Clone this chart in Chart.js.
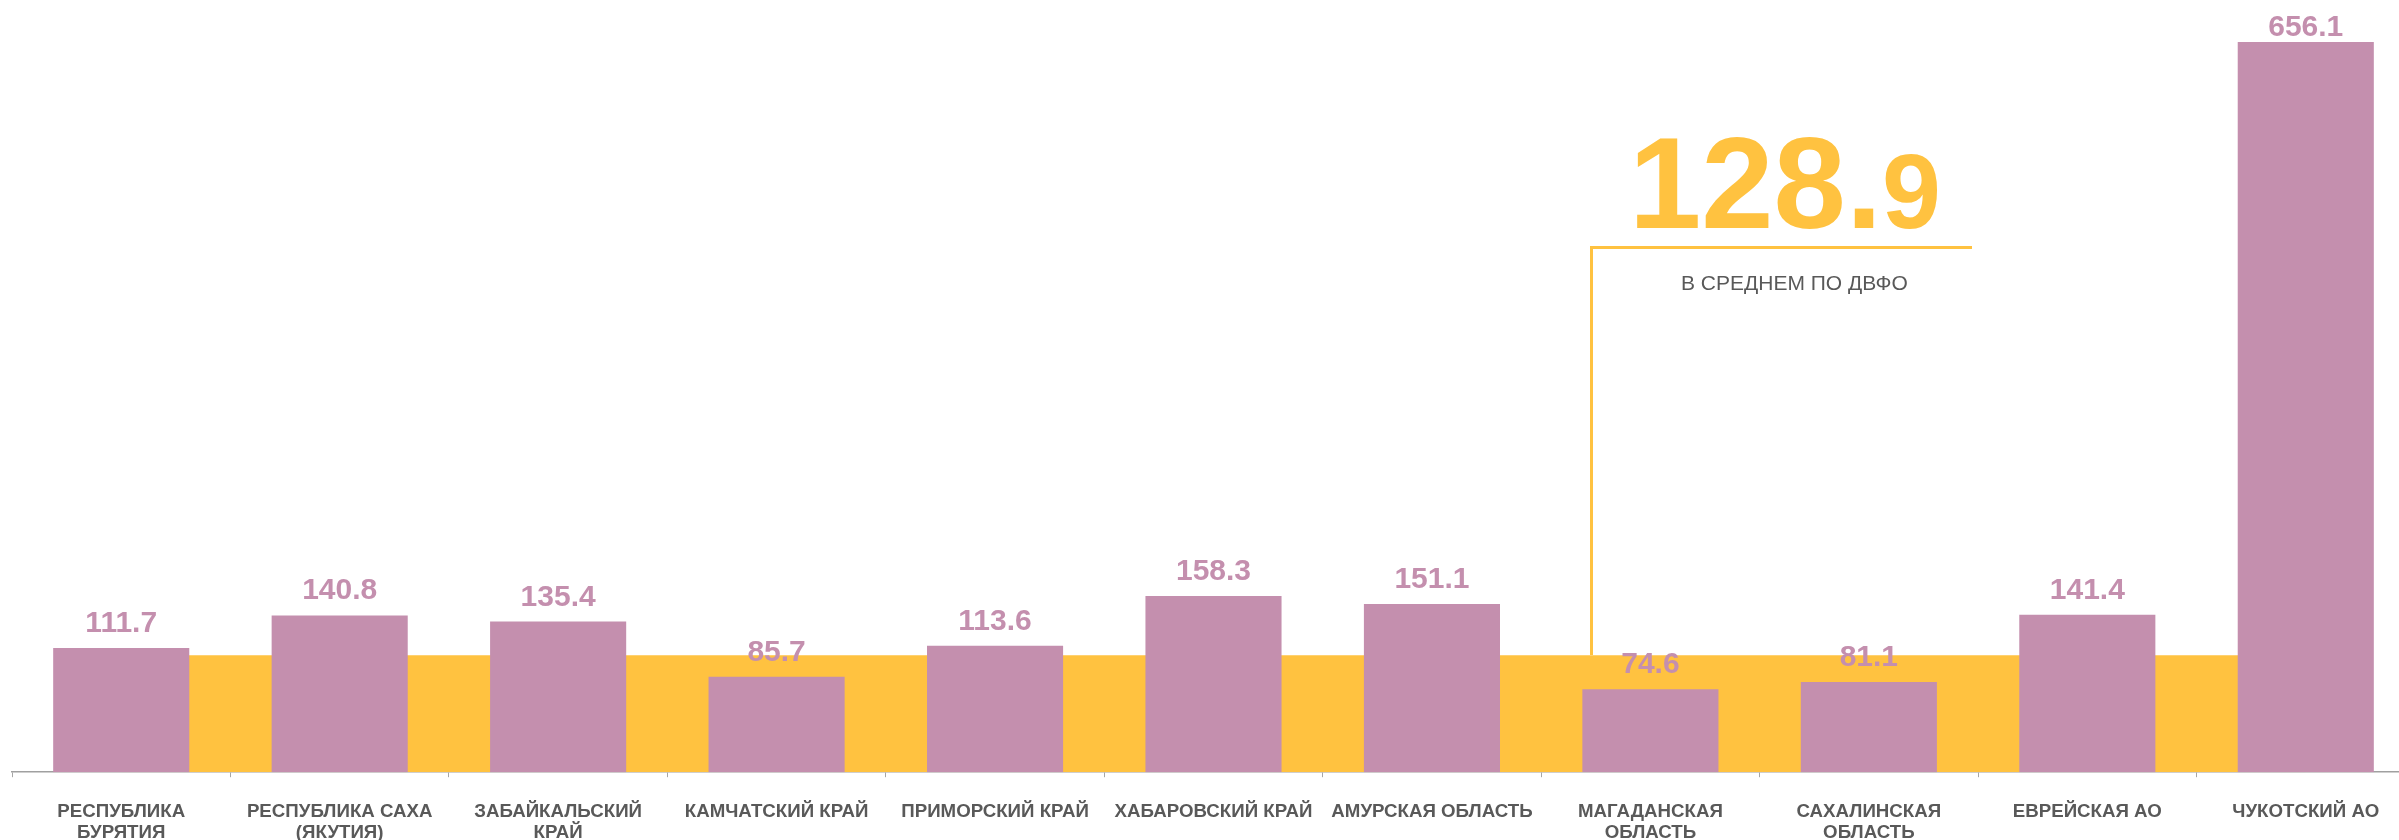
<!DOCTYPE html>
<html>
<head>
<meta charset="utf-8">
<script src="https://cdn.jsdelivr.net/npm/chart.js@4.4.1/dist/chart.umd.min.js"></script>
<style>
  html, body { margin: 0; padding: 0; background: #fff; }
  #wrap { position: relative; width: 2399px; height: 840px; overflow: hidden; }
  #chart { position: absolute; left: 0; top: 0; }
  .avg-num {
    position: absolute; left: 1629px; top: 118px;
    font-family: 'Liberation Sans', Arial, sans-serif; font-weight: bold;
    font-size: 130px; line-height: 130px; color: #FFC240; white-space: nowrap;
  }
  .avg-num span { font-size: 106px; }
  .avg-bracket {
    position: absolute; left: 1590px; top: 246px; width: 379px; height: 406px;
    border-top: 3px solid #FFC240; border-left: 3px solid #FFC240;
  }
  .avg-caption {
    position: absolute; left: 1681px; top: 271px;
    font-family: 'Liberation Sans', Arial, sans-serif; font-size: 21px;
    line-height: 24px; color: #595959; white-space: nowrap;
  }
</style>
</head>
<body>
<div id="wrap">
  <canvas id="chart" width="2420" height="868"></canvas>
  <div class="avg-bracket"></div>
  <div class="avg-num">128.<span>9</span></div>
  <div class="avg-caption">В СРЕДНЕМ ПО ДВФО</div>
</div>
<script>
/* --- data --- */
var regions = [
  ['РЕСПУБЛИКА', 'БУРЯТИЯ'],
  ['РЕСПУБЛИКА САХА', '(ЯКУТИЯ)'],
  ['ЗАБАЙКАЛЬСКИЙ', 'КРАЙ'],
  'КАМЧАТСКИЙ КРАЙ',
  'ПРИМОРСКИЙ КРАЙ',
  'ХАБАРОВСКИЙ КРАЙ',
  'АМУРСКАЯ ОБЛАСТЬ',
  ['МАГАДАНСКАЯ', 'ОБЛАСТЬ'],
  ['САХАЛИНСКАЯ', 'ОБЛАСТЬ'],
  'ЕВРЕЙСКАЯ АО',
  'ЧУКОТСКИЙ АО'
];
var regionValues = [111.7, 140.8, 135.4, 85.7, 113.6, 158.3, 151.1, 74.6, 81.1, 141.4, 656.1];
var avgValues = [128.9, 128.9, 128.9, 128.9, 128.9, 128.9, 128.9, 128.9, 128.9, 128.9, 128.9];

var PURPLE = '#C48FAE';
var YELLOW = '#FFC240';
var GREY = '#595959';

/* --- value labels above the bars --- */
var valueLabels = {
  id: 'valueLabels',
  afterDatasetsDraw: function(chart) {
    var meta = chart.getDatasetMeta(0);
    var ctx = chart.ctx;
    ctx.save();
    ctx.font = 'bold 30px "Liberation Sans", Arial, sans-serif';
    ctx.fillStyle = PURPLE;
    ctx.textAlign = 'center';
    ctx.textBaseline = 'alphabetic';
    for (var i = 0; i < meta.data.length; i++) {
      var bar = meta.data[i];
      var y = Math.max(bar.y - 16, 36);
      ctx.fillText(regionValues[i].toFixed(1), bar.x, y);
    }
    ctx.restore();
  }
};

new Chart(document.getElementById('chart'), {
  type: 'bar',
  data: {
    labels: regions,
    datasets: [
      {
        label: 'Значение',
        data: regionValues,
        backgroundColor: PURPLE,
        borderWidth: 0,
        barPercentage: 1,
        categoryPercentage: 0.623,
        yAxisID: 'y',
        order: 0
      },
      {
        type: 'line',
        label: 'В среднем по ДВФО',
        data: avgValues,
        backgroundColor: YELLOW,
        borderWidth: 0,
        pointRadius: 0,
        fill: 'origin',
        tension: 0,
        yAxisID: 'y2',
        order: 1
      }
    ]
  },
  options: {
    responsive: false,
    animation: false,
    events: [],
    layout: { padding: { left: 12, right: 5, top: 42, bottom: 0 } },
    plugins: {
      legend: { display: false },
      tooltip: { enabled: false }
    },
    scales: {
      x: {
        offset: true,
        grid: {
          display: true,
          offset: true,
          drawOnChartArea: false,
          drawTicks: true,
          tickLength: 5,
          color: '#A6A6A6',
          lineWidth: 1
        },
        border: { display: true, color: '#A0A0A0', width: 1.5 },
        ticks: {
          autoSkip: false,
          maxRotation: 0,
          minRotation: 0,
          padding: 24,
          color: GREY,
          font: { family: '"Liberation Sans", Arial, sans-serif', size: 18.7, weight: 'bold', lineHeight: '21.4px' }
        }
      },
      y: { display: false, min: 0, max: 656.1 },
      y2: { display: false, min: 0, max: 805 }
    }
  },
  plugins: [valueLabels]
});
</script>
</body>
</html>
